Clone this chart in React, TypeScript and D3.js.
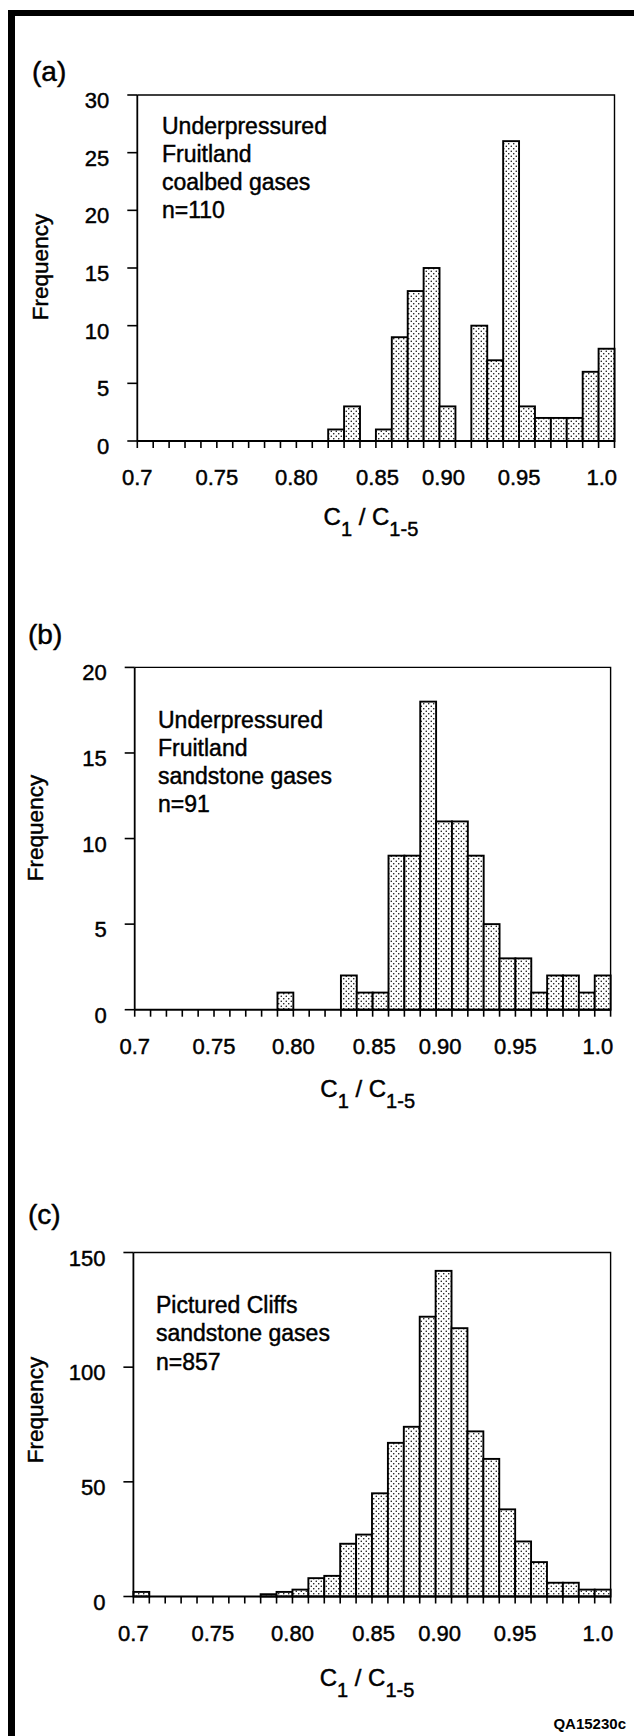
import React from 'react';
import * as d3 from 'd3';

// ---------- data ----------
const binStarts = [
  0.70, 0.71, 0.72, 0.73, 0.74, 0.75, 0.76, 0.77, 0.78, 0.79,
  0.80, 0.81, 0.82, 0.83, 0.84, 0.85, 0.86, 0.87, 0.88, 0.89,
  0.90, 0.91, 0.92, 0.93, 0.94, 0.95, 0.96, 0.97, 0.98, 0.99,
];
const binWidth = 0.01;

const countsA = [0, 0, 0, 0, 0, 0, 0, 0, 0, 0, 0, 0, 1, 3, 0, 1, 9, 13, 15, 3, 0, 10, 7, 26, 3, 2, 2, 2, 6, 8];
const countsB = [0, 0, 0, 0, 0, 0, 0, 0, 0, 1, 0, 0, 0, 2, 1, 1, 9, 9, 18, 11, 11, 9, 5, 3, 3, 1, 2, 2, 1, 2];
const countsC = [2, 0, 0, 0, 0, 0, 0, 0, 1, 2, 3, 8, 9, 23, 27, 45, 67, 74, 122, 142, 117, 72, 60, 38, 24, 15, 6, 6, 3, 3];

const xTickLabels = ['0.7', '0.75', '0.80', '0.85', '0.90', '0.95', '1.0'];
// where each label sits along the axis in the original figure (hand-lettered, slightly off its tick)
const xTickLabelAnchors = [0.7, 0.75, 0.80, 0.851, 0.8925, 0.94, 0.992];

const yTicksA = [0, 5, 10, 15, 20, 25, 30];
const yTicksB = [0, 5, 10, 15, 20];
const yTicksC = [0, 50, 100, 150];

const notesA = ['Underpressured', 'Fruitland', 'coalbed gases', 'n=110'];
const notesB = ['Underpressured', 'Fruitland', 'sandstone gases', 'n=91'];
const notesC = ['Pictured Cliffs', 'sandstone gases', 'n=857'];

const panelLetters = ['(a)', '(b)', '(c)'];
const yAxisTitle = 'Frequency';
const figureCode = 'QA15230c';

// ---------- layout ----------
const W = 634;
const H = 1736;
const FONT = "'Liberation Sans', Arial, Helvetica, sans-serif";
const TXT = { fontFamily: FONT, fill: '#000', stroke: '#000', strokeWidth: 0.45 } as const;

const layouts = [
  { left: 137.3, right: 614.5, y0: 441, yTop: 95, yMax: 30, ticks: yTicksA, counts: countsA, notes: notesA,
    letter: { x: 32, y: 81 }, note: { x: 162, y: 133.5, dy: 28 }, freq: { x: 47.5, y: 267 }, titleDy: 84 },
  { left: 134.7, right: 610.6, y0: 1009.7, yTop: 667.4, yMax: 20, ticks: yTicksB, counts: countsB, notes: notesB,
    letter: { x: 28, y: 644 }, note: { x: 158, y: 727.5, dy: 28.3 }, freq: { x: 43, y: 828 }, titleDy: 87 },
  { left: 133.4, right: 610.6, y0: 1596.5, yTop: 1252.5, yMax: 150, ticks: yTicksC, counts: countsC, notes: notesC,
    letter: { x: 28, y: 1224 }, note: { x: 156, y: 1312.5, dy: 28.5 }, freq: { x: 43, y: 1410 }, titleDy: 89 },
];

function Panel({ cfg, letter }: any) {
  const x = d3.scaleLinear().domain([0.7, 1.0]).range([cfg.left, cfg.right]);
  const y = d3.scaleLinear().domain([0, cfg.yMax]).range([cfg.y0, cfg.yTop]);
  const edges = [...binStarts, binStarts[binStarts.length - 1] + binWidth];
  const cx = (cfg.left + cfg.right) / 2 - 5;
  return (
    <g>
      <text x={cfg.letter.x} y={cfg.letter.y} fontSize={28} {...TXT}>{letter}</text>
      {/* frame top and right */}
      <path
        d={`M${cfg.left},${cfg.yTop} L${cfg.right},${cfg.yTop} L${cfg.right},${cfg.y0}`}
        fill="none" stroke="#000" strokeWidth={1.4}
      />
      {/* bars */}
      {cfg.counts.map((c: number, i: number) =>
        c > 0 ? (
          <rect
            key={i}
            x={x(binStarts[i])}
            y={y(c)}
            width={x(binStarts[i] + binWidth) - x(binStarts[i])}
            height={y(0) - y(c)}
            fill="url(#stipple)"
            stroke="#000"
            strokeWidth={1.9}
          />
        ) : null
      )}
      {/* y axis */}
      <line x1={cfg.left} x2={cfg.left} y1={cfg.yTop} y2={cfg.y0} stroke="#000" strokeWidth={1.8} />
      {/* x axis */}
      <line x1={cfg.left} x2={cfg.right} y1={cfg.y0} y2={cfg.y0} stroke="#000" strokeWidth={2} />
      {/* x minor ticks */}
      {edges.map((e, i) => (
        <line key={i} x1={x(e)} x2={x(e)} y1={cfg.y0} y2={cfg.y0 + 7} stroke="#000" strokeWidth={1.6} />
      ))}
      {xTickLabels.map((s, i) => (
        <text key={i} x={x(xTickLabelAnchors[i])} y={cfg.y0 + 44} fontSize={22} textAnchor="middle" {...TXT}>
          {s}
        </text>
      ))}
      {/* y ticks */}
      {cfg.ticks.map((t: number) => (
        <g key={t}>
          <line x1={cfg.left - 10} x2={cfg.left} y1={y(t)} y2={y(t)} stroke="#000" strokeWidth={1.6} />
          <text x={cfg.left - 28} y={y(t) + 13} fontSize={22} textAnchor="end" {...TXT}>{t}</text>
        </g>
      ))}
      {/* y axis title */}
      <text
        transform={`translate(${cfg.freq.x},${cfg.freq.y}) rotate(-90)`}
        fontSize={22.5}
        textAnchor="middle"
        {...TXT}
      >
        {yAxisTitle}
      </text>
      {/* notes */}
      {cfg.notes.map((s: string, i: number) => (
        <text key={i} x={cfg.note.x} y={cfg.note.y + i * cfg.note.dy} fontSize={23} {...TXT}>{s}</text>
      ))}
      {/* x axis title */}
      <text x={cx} y={cfg.y0 + cfg.titleDy} fontSize={24} textAnchor="middle" {...TXT}>
        <tspan>C</tspan>
        <tspan fontSize={20} dy={11}>1</tspan>
        <tspan dy={-11}> / C</tspan>
        <tspan fontSize={20} dy={11}>1-5</tspan>
      </text>
    </g>
  );
}

export default function App() {
  return (
    <svg
      width={W}
      height={H}
      viewBox={`0 0 ${W} ${H}`}
      style={{ position: 'absolute', left: 0, top: 0, background: '#fff' }}
    >
      <defs>
        <pattern id="stipple" patternUnits="userSpaceOnUse" width={5} height={5}>
          <rect width={5} height={5} fill="#fff" />
          <circle cx={1.25} cy={1.25} r={0.75} fill="#000" />
          <circle cx={3.75} cy={3.75} r={0.75} fill="#000" />
        </pattern>
      </defs>
      <rect x={0} y={0} width={W} height={H} fill="#fff" />
      {/* outer frame: top and left bars */}
      <rect x={8} y={10} width={W - 8} height={6} fill="#000" />
      <rect x={8} y={10} width={7} height={H - 10} fill="#000" />
      {layouts.map((cfg, i) => (
        <Panel key={i} cfg={cfg} letter={panelLetters[i]} />
      ))}
      <text x={626} y={1729} fontSize={15} fontWeight="bold" textAnchor="end" fontFamily={FONT}>{figureCode}</text>
    </svg>
  );
}
